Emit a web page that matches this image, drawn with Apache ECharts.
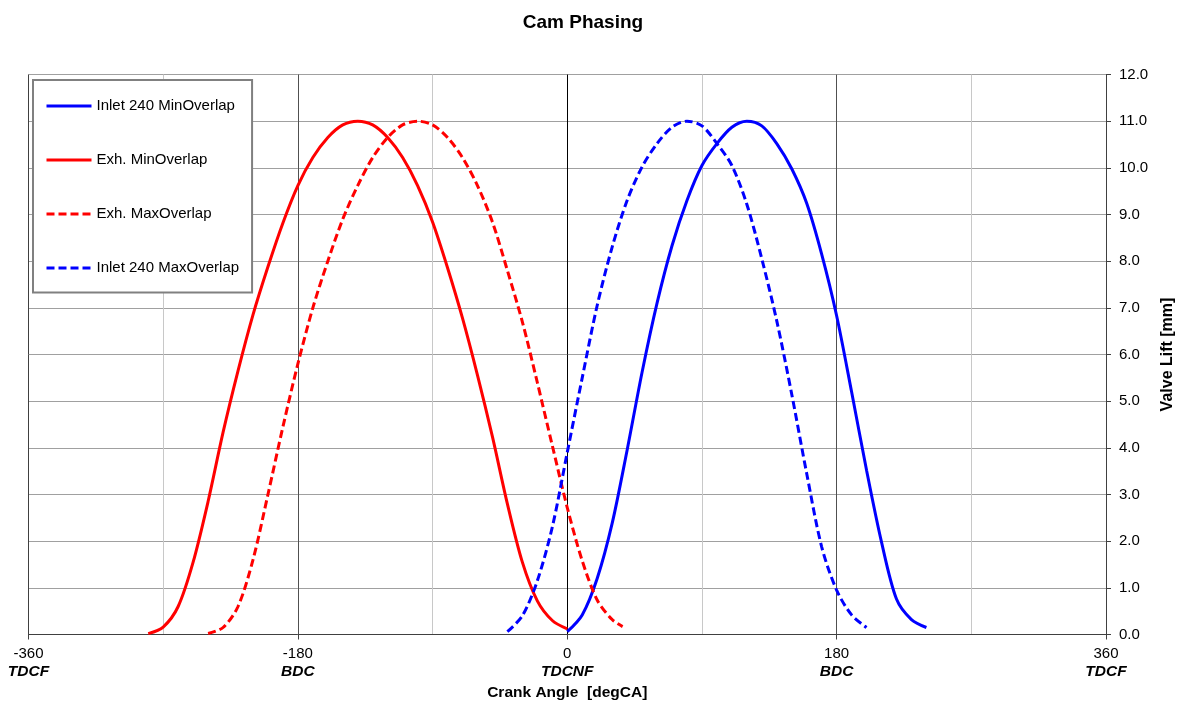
<!DOCTYPE html>
<html>
<head>
<meta charset="utf-8">
<script src="https://cdn.jsdelivr.net/npm/echarts@6/dist/echarts.min.js"></script>
<style>
  html, body { margin: 0; padding: 0; background: #fff; }
  #main { width: 1184px; height: 707px; }
</style>
</head>
<body>
<div id="main"></div>
<script>
// crank angle ticks and their names
var tickValues = [-360, -180, 0, 180, 360];
var tickNames = ['TDCF', 'BDC', 'TDCNF', 'BDC', 'TDCF'];

// Inlet 240 MinOverlap
var inMinDeg = [0, 10, 20, 30, 40, 50, 60, 70, 80, 90, 100, 110, 120, 130, 140, 150, 160, 170, 180, 190, 200, 210, 220, 230, 240];
var inMinLift = [0.06, 0.42, 1.2, 2.38, 3.95, 5.62, 7.1, 8.33, 9.3, 10.05, 10.52, 10.87, 11.0, 10.9, 10.52, 9.98, 9.24, 8.15, 6.83, 5.2, 3.52, 1.98, 0.76, 0.32, 0.15];

// Exh. MinOverlap
var exhMinDeg = [-280, -270, -260, -250, -240, -230, -220, -210, -200, -190, -180, -170, -160, -150, -140, -130, -120, -110, -100, -90, -80, -70, -60, -50, -40, -30, -20, -10, 0];
var exhMinLift = [0.02, 0.16, 0.6, 1.55, 2.85, 4.33, 5.65, 6.85, 7.88, 8.82, 9.62, 10.22, 10.65, 10.92, 11.0, 10.92, 10.65, 10.22, 9.62, 8.84, 7.86, 6.78, 5.56, 4.24, 2.8, 1.55, 0.72, 0.3, 0.12];

// Exh. MaxOverlap
var exhMaxDeg = [-240, -230, -220, -210, -200, -190, -180, -170, -160, -150, -140, -130, -120, -110, -100, -90, -80, -70, -60, -50, -40, -30, -20, -10, 0, 10, 20, 30, 37];
var exhMaxLift = [0.02, 0.15, 0.6, 1.6, 3.0, 4.45, 5.8, 7.0, 8.0, 8.9, 9.62, 10.22, 10.65, 10.92, 11.0, 10.92, 10.65, 10.22, 9.62, 8.84, 7.8, 6.7, 5.4, 4.05, 2.72, 1.58, 0.74, 0.32, 0.17];

// Inlet 240 MaxOverlap
var inMaxDeg = [-40, -30, -20, -10, 0, 10, 20, 30, 40, 50, 60, 70, 80, 90, 100, 110, 120, 130, 140, 150, 160, 170, 180, 190, 200];
var inMaxLift = [0.06, 0.4, 1.15, 2.3, 3.9, 5.5, 7.05, 8.3, 9.3, 10.02, 10.52, 10.87, 11.0, 10.9, 10.52, 10.05, 9.22, 8.05, 6.72, 5.15, 3.45, 1.88, 0.95, 0.42, 0.15];

function pairs(xs, ys) {
  var out = [];
  for (var i = 0; i < xs.length; i++) {
    out.push([xs[i], ys[i]]);
  }
  return out;
}

var font = "'Liberation Sans', Arial, sans-serif";

function lineSeries(name, xs, ys, color, dashed) {
  return {
    name: name,
    type: 'line',
    data: pairs(xs, ys),
    smooth: 0.3,
    symbol: 'none',
    showSymbol: false,
    lineStyle: { color: color, width: 3, type: dashed ? [8, 4] : 'solid' },
    itemStyle: { color: color }
  };
}

var myChart = echarts.init(document.getElementById('main'));

var option = {
  backgroundColor: '#fff',
  animation: false,
  title: {
    text: 'Cam Phasing',
    left: 583,
    textAlign: 'center',
    top: 13,
    padding: 0,
    textStyle: { fontFamily: font, fontSize: 19, fontWeight: 'bold', color: '#000' }
  },
  legend: {
    orient: 'vertical',
    left: 33,
    top: 80,
    itemWidth: 45,
    itemHeight: 14,
    itemGap: 39,
    padding: [18.5, 13, 17, 12],
    backgroundColor: '#fff',
    borderColor: '#808080',
    borderWidth: 2,
    borderRadius: 0,
    itemStyle: { opacity: 0 },
    lineStyle: { width: 3 },
    textStyle: { fontFamily: font, fontSize: 15, color: '#000' },
    data: ['Inlet 240 MinOverlap', 'Exh. MinOverlap', 'Exh. MaxOverlap', 'Inlet 240 MaxOverlap']
  },
  grid: {
    left: 28.5,
    right: 78,
    top: 74.5,
    bottom: 72.5,
    containLabel: false,
    outerBoundsMode: 'none'
  },
  xAxis: {
    type: 'value',
    min: -360,
    max: 360,
    interval: 180,
    name: 'Crank Angle  [degCA]',
    nameLocation: 'middle',
    nameGap: 50,
    nameTextStyle: { fontFamily: font, fontSize: 15.5, fontWeight: 'bold', color: '#000' },
    axisLine: { show: true, onZero: false, lineStyle: { color: '#404040', width: 1 } },
    axisTick: { show: true, length: 5, lineStyle: { color: '#404040' } },
    axisLabel: {
      margin: 10,
      formatter: function (v) {
        var i = tickValues.indexOf(v);
        return '{n|' + v + '}\n{t|' + (i >= 0 ? tickNames[i] : '') + '}';
      },
      rich: {
        n: { fontFamily: font, fontSize: 15, color: '#000', lineHeight: 18 },
        t: { fontFamily: font, fontSize: 15.5, fontWeight: 'bold', fontStyle: 'italic', color: '#000', lineHeight: 19 }
      }
    },
    splitLine: {
      show: true,
      lineStyle: { color: ['#404040', '#505050', '#000000', '#505050', '#404040'], width: 1 }
    },
    minorTick: { show: false, splitNumber: 2 },
    minorSplitLine: { show: true, lineStyle: { color: '#c8c8c8', width: 1 } }
  },
  yAxis: {
    type: 'value',
    position: 'right',
    min: 0,
    max: 12,
    interval: 1,
    name: 'Valve Lift [mm]',
    nameLocation: 'middle',
    nameRotate: 90,
    nameGap: 54,
    nameTextStyle: { fontFamily: font, fontSize: 16, fontWeight: 'bold', color: '#000' },
    axisLine: { show: true, onZero: false, lineStyle: { color: '#404040', width: 1 } },
    axisTick: { show: true, length: 5, lineStyle: { color: '#404040' } },
    axisLabel: {
      margin: 13,
      fontFamily: font,
      fontSize: 15,
      color: '#000',
      formatter: function (v) { return v.toFixed(1); }
    },
    splitLine: { show: true, lineStyle: { color: '#a0a0a0', width: 1 } }
  },
  series: [
    lineSeries('Inlet 240 MinOverlap', inMinDeg, inMinLift, '#0000ff', false),
    lineSeries('Exh. MinOverlap', exhMinDeg, exhMinLift, '#ff0000', false),
    lineSeries('Exh. MaxOverlap', exhMaxDeg, exhMaxLift, '#ff0000', true),
    lineSeries('Inlet 240 MaxOverlap', inMaxDeg, inMaxLift, '#0000ff', true)
  ]
};

myChart.setOption(option);
</script>
</body>
</html>
